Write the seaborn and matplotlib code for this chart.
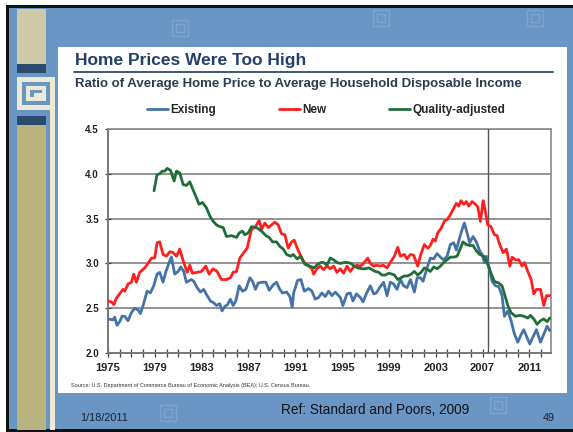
import numpy as np
import pandas as pd
import matplotlib
matplotlib.use('agg')
import matplotlib.pyplot as plt
import seaborn as sns
from matplotlib.patches import Rectangle
from matplotlib.lines import Line2D

# values
existing_year = [1975.00, 1975.43, 1975.57, 1975.77, 1976.00, 1976.20, 1976.43, 1976.71, 1977.00, 1977.28,
                 1977.57, 1977.77, 1978.00, 1978.34, 1978.62, 1978.91, 1979.19, 1979.42, 1979.70, 1979.93,
                 1980.22, 1980.42, 1980.70, 1980.99, 1981.22, 1981.47, 1981.70, 1982.13, 1982.33, 1982.61,
                 1982.90, 1983.18, 1983.47, 1983.75, 1984.04, 1984.27, 1984.55, 1984.75, 1984.98, 1985.21,
                 1985.46, 1985.69, 1985.92, 1986.21, 1986.49, 1986.78, 1987.12, 1987.35, 1987.60, 1987.83,
                 1988.17, 1988.49, 1988.77, 1989.11, 1989.40, 1989.68, 1989.91, 1990.26, 1990.54, 1990.74,
                 1990.86, 1991.20, 1991.48, 1991.77, 1992.14, 1992.42, 1992.71, 1992.99, 1993.28, 1993.56,
                 1993.85, 1994.13, 1994.42, 1994.85, 1995.07, 1995.42, 1995.70, 1995.93, 1996.22, 1996.56,
                 1996.79, 1997.07, 1997.41, 1997.70, 1997.93, 1998.21, 1998.55, 1998.84, 1999.12, 1999.41,
                 1999.69, 1999.98, 2000.26, 2000.55, 2000.84, 2001.18, 2001.41, 2001.69, 2001.92, 2002.26,
                 2002.54, 2002.83, 2003.11, 2003.40, 2003.68, 2003.97, 2004.25, 2004.54, 2004.76, 2005.05,
                 2005.33, 2005.45, 2005.68, 2005.90, 2006.19, 2006.47, 2006.76, 2006.96, 2007.16, 2007.33,
                 2007.53, 2007.82, 2008.10, 2008.39, 2008.67, 2008.87, 2009.16, 2009.44, 2009.73, 2010.01,
                 2010.24, 2010.52, 2010.81, 2011.04, 2011.24, 2011.61, 2011.95, 2012.23, 2012.52, 2012.75]
existing = [2.38, 2.37, 2.40, 2.31, 2.35, 2.41, 2.41, 2.36, 2.45, 2.50,
            2.48, 2.44, 2.53, 2.69, 2.67, 2.75, 2.88, 2.90, 2.79, 2.90,
            3.01, 3.07, 2.88, 2.91, 2.96, 2.91, 2.79, 2.82, 2.80, 2.73,
            2.68, 2.71, 2.64, 2.58, 2.56, 2.53, 2.55, 2.47, 2.52, 2.54,
            2.60, 2.53, 2.58, 2.75, 2.69, 2.71, 2.84, 2.80, 2.71, 2.78,
            2.79, 2.79, 2.70, 2.76, 2.79, 2.71, 2.67, 2.68, 2.63, 2.51,
            2.67, 2.81, 2.82, 2.69, 2.72, 2.69, 2.60, 2.62, 2.67, 2.63,
            2.69, 2.64, 2.68, 2.62, 2.53, 2.66, 2.67, 2.58, 2.66, 2.62,
            2.57, 2.66, 2.75, 2.66, 2.67, 2.73, 2.79, 2.64, 2.79, 2.77,
            2.71, 2.82, 2.75, 2.73, 2.82, 2.68, 2.84, 2.84, 2.80, 2.95,
            3.06, 3.05, 3.11, 3.07, 3.04, 3.08, 3.21, 3.23, 3.15, 3.29,
            3.41, 3.45, 3.34, 3.23, 3.30, 3.24, 3.14, 3.10, 3.01, 3.08,
            2.97, 2.80, 2.75, 2.74, 2.64, 2.41, 2.47, 2.36, 2.21, 2.12,
            2.19, 2.26, 2.17, 2.10, 2.16, 2.26, 2.12, 2.21, 2.30, 2.25]

new_year = [1975.00, 1975.29, 1975.51, 1975.71, 1976.00, 1976.28, 1976.43, 1976.71, 1977.00, 1977.20,
            1977.42, 1977.71, 1978.14, 1978.42, 1978.71, 1978.99, 1979.19, 1979.42, 1979.70, 1979.99,
            1980.28, 1980.56, 1980.85, 1981.13, 1981.42, 1981.76, 1981.99, 1982.21, 1982.61, 1982.98,
            1983.35, 1983.64, 1983.98, 1984.32, 1984.69, 1985.12, 1985.46, 1985.69, 1985.98, 1986.26,
            1986.61, 1986.89, 1987.26, 1987.55, 1987.92, 1988.12, 1988.40, 1988.69, 1988.97, 1989.26,
            1989.54, 1989.83, 1990.11, 1990.40, 1990.68, 1990.91, 1991.20, 1991.48, 1991.77, 1992.14,
            1992.42, 1992.57, 1992.85, 1993.14, 1993.42, 1993.71, 1993.99, 1994.28, 1994.56, 1994.85,
            1995.13, 1995.42, 1995.70, 1995.99, 1996.27, 1996.56, 1996.84, 1997.19, 1997.41, 1997.70,
            1997.93, 1998.21, 1998.50, 1998.84, 1999.12, 1999.47, 1999.75, 1999.98, 2000.32, 2000.55,
            2000.84, 2001.12, 2001.46, 2001.75, 2002.03, 2002.32, 2002.54, 2002.77, 2002.97, 2003.17,
            2003.45, 2003.74, 2003.97, 2004.19, 2004.48, 2004.76, 2004.96, 2005.16, 2005.39, 2005.62,
            2005.82, 2006.10, 2006.39, 2006.59, 2006.82, 2007.05, 2007.19, 2007.44, 2007.73, 2008.01,
            2008.24, 2008.47, 2008.76, 2009.04, 2009.33, 2009.53, 2009.81, 2010.10, 2010.38, 2010.58,
            2010.87, 2011.15, 2011.38, 2011.61, 2011.95, 2012.23, 2012.46, 2012.75]
new = [2.58, 2.57, 2.54, 2.61, 2.66, 2.71, 2.69, 2.77, 2.79, 2.88,
       2.79, 2.90, 2.95, 3.00, 3.06, 3.06, 3.23, 3.24, 3.10, 3.08,
       3.13, 3.12, 3.08, 3.16, 3.03, 2.90, 2.98, 2.89, 2.90, 2.91,
       2.97, 2.88, 2.94, 2.91, 2.82, 2.82, 2.84, 2.90, 2.91, 3.06,
       3.12, 3.17, 3.38, 3.40, 3.48, 3.38, 3.45, 3.40, 3.43, 3.46,
       3.43, 3.33, 3.32, 3.17, 3.24, 3.26, 3.16, 3.08, 3.01, 2.97,
       2.94, 2.88, 2.94, 2.97, 2.93, 2.97, 2.94, 2.97, 2.90, 2.94,
       2.89, 2.97, 2.91, 2.96, 2.98, 2.97, 3.00, 3.06, 3.00, 2.97,
       2.98, 2.97, 2.98, 2.95, 3.01, 3.08, 3.18, 3.08, 3.10, 3.05,
       3.10, 3.09, 2.97, 3.11, 3.21, 3.17, 3.20, 3.27, 3.25, 3.34,
       3.39, 3.47, 3.49, 3.53, 3.60, 3.67, 3.64, 3.70, 3.66, 3.69,
       3.64, 3.69, 3.66, 3.63, 3.47, 3.70, 3.62, 3.43, 3.41, 3.32,
       3.31, 3.21, 3.12, 3.16, 2.97, 3.07, 3.04, 3.04, 2.97, 3.01,
       2.91, 2.82, 2.66, 2.71, 2.71, 2.53, 2.64, 2.64]

quality_year = [1978.93, 1979.19, 1979.42, 1979.65, 1979.85, 1980.05, 1980.33, 1980.65, 1980.85, 1981.13,
                1981.42, 1981.70, 1981.99, 1982.27, 1982.56, 1982.78, 1983.07, 1983.41, 1983.70, 1983.98,
                1984.27, 1984.55, 1984.84, 1985.12, 1985.55, 1985.98, 1986.21, 1986.49, 1986.69, 1986.98,
                1987.26, 1987.69, 1988.12, 1988.49, 1988.77, 1989.06, 1989.40, 1989.68, 1989.97, 1990.26,
                1990.60, 1990.83, 1991.17, 1991.45, 1991.82, 1992.25, 1992.62, 1992.91, 1993.19, 1993.42,
                1993.71, 1993.99, 1994.28, 1994.56, 1994.85, 1995.19, 1995.47, 1995.76, 1996.04, 1996.33,
                1996.70, 1996.99, 1997.27, 1997.56, 1997.84, 1998.13, 1998.41, 1998.70, 1998.98, 1999.27,
                1999.47, 1999.75, 2000.04, 2000.32, 2000.61, 2000.89, 2001.18, 2001.46, 2001.75, 2002.03,
                2002.32, 2002.54, 2002.83, 2003.11, 2003.40, 2003.68, 2003.97, 2004.25, 2004.54, 2004.82,
                2005.05, 2005.33, 2005.62, 2005.90, 2006.19, 2006.47, 2006.76, 2007.10, 2007.44, 2007.73,
                2008.01, 2008.39, 2008.67, 2008.96, 2009.16, 2009.44, 2009.81, 2010.18, 2010.52, 2010.87,
                2011.09, 2011.38, 2011.66, 2011.95, 2012.23, 2012.52, 2012.75]
quality = [3.81, 3.99, 4.00, 4.03, 4.03, 4.06, 4.04, 3.92, 4.03, 4.01,
           3.88, 3.87, 3.91, 3.82, 3.73, 3.66, 3.68, 3.62, 3.53, 3.47,
           3.43, 3.41, 3.40, 3.30, 3.31, 3.29, 3.34, 3.36, 3.32, 3.34,
           3.41, 3.40, 3.36, 3.31, 3.29, 3.24, 3.24, 3.19, 3.16, 3.10,
           3.08, 3.10, 3.05, 3.08, 2.99, 2.97, 2.95, 2.99, 3.01, 3.01,
           2.98, 3.06, 3.04, 3.01, 3.00, 3.01, 3.01, 3.00, 2.97, 2.95,
           2.94, 2.94, 2.95, 2.93, 2.91, 2.90, 2.87, 2.87, 2.89, 2.88,
           2.87, 2.82, 2.84, 2.86, 2.86, 2.88, 2.91, 2.87, 2.90, 2.95,
           2.93, 2.91, 2.96, 2.94, 2.97, 3.01, 3.04, 3.07, 3.07, 3.08,
           3.15, 3.24, 3.21, 3.20, 3.20, 3.14, 3.10, 3.08, 2.99, 2.89,
           2.80, 2.78, 2.75, 2.62, 2.53, 2.45, 2.41, 2.42, 2.41, 2.39,
           2.42, 2.38, 2.32, 2.36, 2.38, 2.35, 2.39]

series_names = ['Existing', 'New', 'Quality-adjusted']
series_colors = ['#4572a7', '#ff1f1f', '#1f6e38']
year_labels = list(range(1975, 2012, 4))
y_ticks = [2.0, 2.5, 3.0, 3.5, 4.0, 4.5]
marker_year = 2007.5

W, H = 573, 432
sns.set_style('white')
plt.rcParams['font.family'] = ['Liberation Sans', 'DejaVu Sans']

fig = plt.figure(figsize=(W / 100, H / 100), dpi=100)
fig.patch.set_facecolor('white')


def rect(x0, y0, x1, y1, color, z=0, edge='none'):
    # pixel box, origin top-left
    fig.add_artist(Rectangle((x0 / W, 1 - y1 / H), (x1 - x0) / W, (y1 - y0) / H,
                             transform=fig.transFigure, facecolor=color, edgecolor=edge,
                             lw=1, zorder=z))


# slide background and left decoration
rect(7, 5, W, 432, '#6a96c6')
rect(6, 5, 9, 432, '#111111', 1)
rect(6, 5, W, 8, '#111111', 1)
rect(6, 429, W, 432, '#111111', 1)
rect(17, 9, 46, 64, '#cdc9a9', 1)
rect(17, 64, 46, 73, '#2b4a6e', 1)
rect(17, 116, 46, 125, '#2b4a6e', 1)
rect(17, 125, 46, 430, '#b9b47f', 1)
rect(50, 77, 55, 430, '#ecead3', 1)
# spiral icon
rect(17, 77, 55, 110, '#ecead3', 2)
rect(22, 82, 50, 105, '#6a96c6', 2)
rect(26, 86, 46, 101, '#ecead3', 2)
rect(30, 90, 42, 97, '#6a96c6', 2)
rect(34, 93, 46, 97, '#ecead3', 2)
# faint watermark squares
for bx, by in [(172, 20), (373, 10), (527, 10), (160, 405), (490, 397)]:
    rect(bx, by, bx + 16, by + 16, 'none', 1, edge='#7ea5d0')
    rect(bx + 4, by + 4, bx + 12, by + 12, 'none', 1, edge='#7ea5d0')
# white chart panel
rect(58, 47, 567, 393, 'white', 1)

fig.text(75 / W, 1 - 60 / H, 'Home Prices Were Too High', fontsize=12.5, fontweight='bold',
         color='#22406a', va='center', ha='left', zorder=3)
fig.add_artist(Line2D([74 / W, 553 / W], [1 - 72 / H, 1 - 72 / H], color='#2e4a70', lw=1.3, zorder=3))
fig.text(75 / W, 1 - 84 / H, 'Ratio of Average Home Price to Average Household Disposable Income',
         fontsize=9.5, fontweight='bold', color='#2c3b50', va='center', ha='left', zorder=3)

ax = fig.add_axes([108 / W, 1 - 353 / H, (551 - 108) / W, (353 - 129) / H])
ax.set_zorder(3)
ax.set_facecolor('white')

df = pd.concat([
    pd.DataFrame({'year': existing_year, 'ratio': existing, 'series': series_names[0]}),
    pd.DataFrame({'year': new_year, 'ratio': new, 'series': series_names[1]}),
    pd.DataFrame({'year': quality_year, 'ratio': quality, 'series': series_names[2]}),
])
sns.lineplot(data=df, x='year', y='ratio', hue='series', hue_order=series_names,
             palette=series_colors, lw=2.0, ax=ax, legend=False, estimator=None, sort=False, zorder=4)

ax.axvline(marker_year, color='#555555', lw=1.0, zorder=3)
ax.set_xlim(1975, 2012.85)
ax.set_ylim(2.0, 4.5)
ax.set_yticks(y_ticks)
ax.set_yticklabels(['{:.1f}'.format(v) for v in y_ticks])
ax.yaxis.grid(True, color='#8a8a8a', lw=1.3)
ax.set_axisbelow(True)
yrs = list(range(1975, 2013))
ax.set_xticks(yrs)
ax.set_xticklabels([str(y) if y in year_labels else '' for y in yrs])
ax.tick_params(axis='x', direction='inout', length=6, width=0.9, color='#444444', pad=4,
               labelsize=8, labelcolor='#222222', bottom=True)
ax.tick_params(axis='y', direction='inout', length=5, width=0.9, color='#444444', pad=4,
               labelsize=7, labelcolor='#222222', left=True)
for lab in ax.get_xticklabels() + ax.get_yticklabels():
    lab.set_fontweight('bold')
for side in ['left', 'bottom']:
    ax.spines[side].set_color('#777777')
    ax.spines[side].set_linewidth(1.4)
for side in ['top', 'right']:
    ax.spines[side].set_color('#8a8a8a')
    ax.spines[side].set_linewidth(1.2)
ax.set_xlabel('')
ax.set_ylabel('')

handles = [Line2D([], [], color=c, lw=2) for c in series_colors]
leg = fig.legend(handles, series_names, loc='center left', bbox_to_anchor=(141 / W, 1 - 110 / H),
                 ncol=3, frameon=False, borderpad=0, handlelength=1.8, handletextpad=0.2,
                 columnspacing=5.3, prop={'weight': 'bold', 'size': 8.5})
leg.set_zorder(3)

fig.text(71 / W, 1 - 385 / H,
         'Source: U.S. Department of Commerce Bureau of Economic Analysis (BEA); U.S. Census Bureau.',
         fontsize=4.0, color='#333333', va='center', ha='left', zorder=3)

fig.text(80 / W, 1 - 418 / H, '1/18/2011', fontsize=7.8, color='#1b2233', va='center', ha='left', zorder=3)
fig.text(375 / W, 1 - 410 / H, 'Ref: Standard and Poors, 2009', fontsize=9.8, color='#111111',
         va='center', ha='center', zorder=3)
fig.text(549 / W, 1 - 418 / H, '49', fontsize=7.8, color='#1b2233', va='center', ha='center', zorder=3)

plt.savefig('out.png', dpi=100, facecolor=fig.get_facecolor())
